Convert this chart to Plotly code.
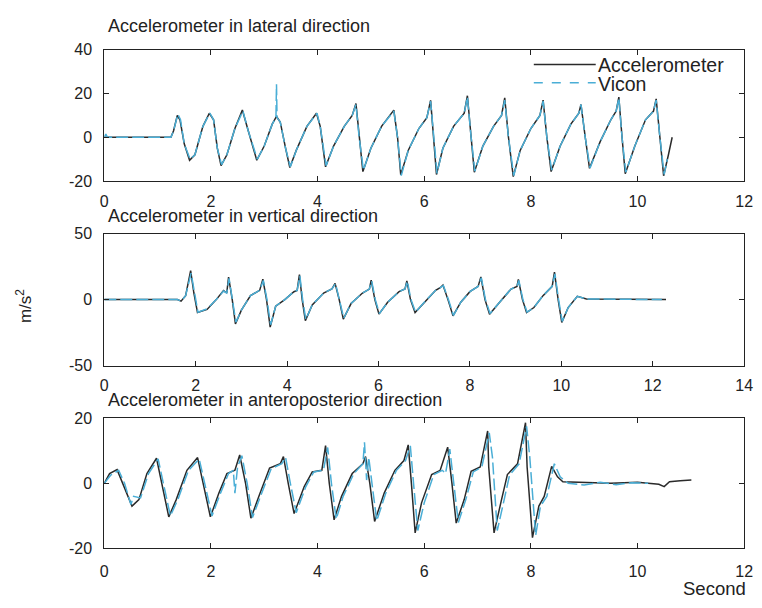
import plotly.graph_objects as go

# ---------------- lateral direction ----------------
lat_acc_t = [0.00, 1.25, 1.30, 1.37, 1.42, 1.50, 1.60, 1.70, 1.85, 1.97, 2.05, 2.12, 2.19, 2.30,
             2.45, 2.59, 2.70, 2.86, 3.00, 3.15, 3.23, 3.30, 3.40, 3.48, 3.60, 3.80, 3.98, 4.05,
             4.15, 4.30, 4.50, 4.65, 4.72, 4.78, 4.85, 5.00, 5.20, 5.43, 5.50, 5.56, 5.70, 5.90,
             6.05, 6.12, 6.18, 6.23, 6.35, 6.55, 6.75, 6.81, 6.88, 6.94, 7.10, 7.30, 7.45, 7.51,
             7.58, 7.67, 7.80, 8.00, 8.17, 8.23, 8.30, 8.38, 8.55, 8.75, 8.90, 8.94, 9.02, 9.10,
             9.30, 9.50, 9.60, 9.65, 9.71, 9.77, 9.95, 10.15, 10.30, 10.35, 10.42, 10.49, 10.58, 10.65]
lat_acc_v = [0, 0, 3, 10, 8, -3, -10.5, -8, 5, 11, 8, -5, -13, -8,
             4, 12.5, 3, -10.5, -4, 6, 9.5, 7, -5, -13.8, -6, 5, 11, 5,
             -13.5, -4, 5, 10, 15.4, 0, -15.7, -5, 5, 12.4, 0, -17.2, -6, 4,
             9, 16.9, 0, -17, -5, 5, 11, 19, 0, -16, -4, 5, 10, 18,
             0, -18, -6, 4, 10, 17, 0, -15.7, -4, 6, 11, 15, 0, -14.2,
             -2, 8, 12, 18.4, 0, -16.7, -4, 8, 12, 17.6, 0, -17.6, -8, 0]

lat_vic_t = [0.00, 0.03, 0.06, 1.25, 1.30, 1.38, 1.43, 1.50, 1.61, 1.70, 1.85, 1.98, 2.05, 2.12,
             2.20, 2.30, 2.45, 2.60, 2.70, 2.87, 3.00, 3.15, 3.22, 3.23, 3.24, 3.30, 3.40, 3.49,
             3.60, 3.80, 3.99, 4.05, 4.16, 4.30, 4.50, 4.65, 4.72, 4.78, 4.86, 5.00, 5.20, 5.43,
             5.50, 5.57, 5.70, 5.90, 6.05, 6.12, 6.18, 6.24, 6.35, 6.55, 6.75, 6.81, 6.88, 6.95,
             7.10, 7.30, 7.45, 7.51, 7.58, 7.68, 7.80, 8.00, 8.17, 8.23, 8.30, 8.39, 8.55, 8.75,
             8.90, 8.94, 9.02, 9.11, 9.30, 9.50, 9.60, 9.65, 9.71, 9.78, 9.95, 10.15, 10.30, 10.35,
             10.42, 10.50, 10.56]
lat_vic_v = [0, 1.5, 0, 0, 3, 10.5, 8, -3, -10, -8, 5, 11, 8, -5,
             -12.5, -8, 4, 12, 3, -10, -4, 6, 9, 24.3, 9, 7, -5, -13.5,
             -6, 5, 11, 5, -13, -4, 5, 10, 15, 0, -15, -5, 5, 12,
             0, -17.5, -6, 4, 9, 16.5, 0, -16.5, -5, 5, 11, 18.5, 0, -15.5,
             -4, 5, 10, 17, 0, -17.5, -6, 4, 10, 16.5, 0, -15, -4, 6,
             11, 15, 0, -14, -2, 8, 12, 18, 0, -16, -4, 8, 12, 17,
             0, -17, -10]

# ---------------- vertical direction ----------------
ver_acc_t = [0.00, 1.60, 1.68, 1.78, 1.89, 1.96, 2.04, 2.25, 2.45, 2.61, 2.68, 2.72, 2.80, 2.87,
             3.00, 3.20, 3.40, 3.47, 3.55, 3.63, 3.75, 3.95, 4.15, 4.22, 4.27, 4.33, 4.40, 4.55,
             4.80, 4.98, 5.05, 5.14, 5.23, 5.40, 5.65, 5.80, 5.84, 5.92, 6.01, 6.20, 6.45, 6.58,
             6.62, 6.70, 6.80, 7.00, 7.25, 7.35, 7.41, 7.52, 7.63, 7.80, 8.00, 8.18, 8.24, 8.33,
             8.43, 8.65, 8.90, 9.03, 9.06, 9.15, 9.24, 9.40, 9.60, 9.80, 9.85, 9.93, 10.01, 10.15,
             10.35, 10.55, 12.29]
ver_acc_v = [0, 0, -1.2, 3, 22, 5, -9.8, -7.4, 0, 6.8, 5, 17, 0, -18.4,
             -8, 3, 7, 15.4, 0, -20.8, -5, 0, 6, 7, 19, 0, -15.9, -4,
             5, 8, 12.3, 0, -14.7, -3, 5, 8, 14.7, 0, -11, -2, 6, 8,
             14.2, 0, -9.8, -2, 7, 9, 11, 0, -12.3, -2, 6, 10, 17.2, 0,
             -11, -2, 8, 10, 15.2, 0, -9.8, -6, 3, 10, 20.8, 0, -17.2, -6,
             2.5, 0.5, 0]

ver_vic_t = [0.00, 1.60, 1.68, 1.78, 1.90, 1.97, 2.05, 2.25, 2.45, 2.61, 2.68, 2.73, 2.81, 2.88,
             3.00, 3.20, 3.40, 3.48, 3.56, 3.64, 3.75, 3.95, 4.15, 4.22, 4.28, 4.34, 4.41, 4.55,
             4.80, 4.98, 5.06, 5.15, 5.24, 5.40, 5.65, 5.80, 5.85, 5.93, 6.02, 6.20, 6.45, 6.58,
             6.63, 6.71, 6.81, 7.00, 7.25, 7.35, 7.42, 7.53, 7.64, 7.80, 8.00, 8.18, 8.25, 8.34,
             8.44, 8.65, 8.90, 9.03, 9.07, 9.16, 9.25, 9.40, 9.60, 9.80, 9.86, 9.94, 10.02, 10.15,
             10.35, 10.55, 12.20]
ver_vic_v = [0, 0, -1, 3, 20, 5, -9.5, -7, 0, 6.5, 5, 16, 0, -17,
             -8, 3, 7, 14.5, 0, -19, -5, 0, 6, 7, 18, 0, -15, -4,
             5, 8, 12, 0, -14, -3, 5, 8, 14, 0, -10.5, -2, 6, 8,
             14, 0, -9.5, -2, 7, 9, 10.5, 0, -12, -2, 6, 10, 16.5, 0,
             -10.5, -2, 8, 10, 14.5, 0, -9.5, -6, 3, 10, 19.5, 0, -16.5, -6,
             2.5, 0.5, 0]

# ---------------- anteroposterior direction ----------------
ap_acc_t = [0.00, 0.10, 0.24, 0.35, 0.52, 0.65, 0.80, 0.98, 1.08, 1.21, 1.35, 1.55, 1.75, 1.85,
            1.99, 2.15, 2.30, 2.45, 2.54, 2.65, 2.75, 2.90, 3.10, 3.30, 3.36, 3.45, 3.56, 3.75,
            3.90, 4.08, 4.15, 4.22, 4.31, 4.45, 4.65, 4.85, 4.90, 4.98, 5.07, 5.25, 5.45, 5.62,
            5.70, 5.76, 5.83, 5.95, 6.14, 6.30, 6.44, 6.52, 6.60, 6.75, 6.88, 7.05, 7.19, 7.21,
            7.31, 7.45, 7.56, 7.75, 7.90, 7.93, 8.03, 8.15, 8.25, 8.39, 8.50, 8.60, 9.50, 10.00,
            10.40, 10.50, 10.60, 10.80, 11.01]
ap_acc_v = [0, 3, 4.2, 0, -7, -5, 3, 7.7, 0, -10.3, -5, 4, 7.9, 0,
            -10.3, -3, 3, 4, 8.7, 0, -10.7, -4, 4.7, 6, 8.2, 0, -9.3, -1,
            3.5, 4, 11.6, 0, -11.2, -4, 3, 6, 8.2, 0, -11.7, -3, 4, 7,
            11.8, 0, -15.2, -6, 2.7, 4, 11.1, 0, -12.2, -5, 3.7, 5, 16.1, 5,
            -15.2, -5, 2.7, 6, 18.6, 5, -16.7, -7, -4, 5.2, 2, 0.5, 0, 0.3,
            -0.3, -1, 0.5, 0.8, 1]

ap_vic_t = [0.00, 0.12, 0.27, 0.38, 0.50, 0.55, 0.68, 0.83, 1.01, 1.11, 1.24, 1.38, 1.58, 1.78,
            1.88, 2.02, 2.18, 2.33, 2.42, 2.45, 2.50, 2.58, 2.68, 2.78, 2.93, 3.13, 3.33, 3.40,
            3.49, 3.60, 3.78, 3.93, 4.11, 4.19, 4.26, 4.35, 4.48, 4.68, 4.85, 4.88, 4.92, 4.96,
            5.02, 5.11, 5.28, 5.48, 5.65, 5.74, 5.80, 5.88, 6.00, 6.18, 6.34, 6.40, 6.48, 6.56,
            6.64, 6.78, 6.92, 7.08, 7.22, 7.28, 7.37, 7.50, 7.60, 7.78, 7.92, 7.98, 8.09, 8.18,
            8.30, 8.44, 8.55, 8.70, 9.00, 9.30, 9.60, 9.90, 10.20]
ap_vic_v = [0, 2.5, 4, 0, -6.5, -4, -4.5, 3, 7.5, 0, -10, -5, 4, 7.5,
            0, -10, -3, 3, 4, -3, 5, 8.5, 0, -10.5, -4, 4.5, 6, 8,
            0, -9, -1, 3.5, 4, 11, 0, -11, -4, 3, 6, 12.6, 1, 8,
            0, -11.5, -3, 4, 7, 11.5, 0, -14.5, -6, 2.7, 4, 3, 10.5, 0,
            -12, -5, 3.5, 5, 15.5, 8, -14.5, -5, 2.5, 6, 17.5, 8, -16, -7,
            -4, 6, 2, 0, -0.5, 0.3, -0.4, 0.2, 0]

# tick positions and labels
x_ticks_12 = [0, 2, 4, 6, 8, 10, 12]
x_ticks_14 = [0, 2, 4, 6, 8, 10, 12, 14]
lat_y_ticks = [-20, 0, 20, 40]
ver_y_ticks = [-50, 0, 50]
ap_y_ticks = [-20, 0, 20]

W, H = 762, 608
ACC_COLOR = "#2a2a2a"
VIC_COLOR = "#4aaed6"
FONT = "Liberation Sans, Arial, sans-serif"


def px(x):
    return x / W


def py(y):
    return 1 - y / H


fig = go.Figure()

panels = [
    ("x", "y", lat_acc_t, lat_acc_v, lat_vic_t, lat_vic_v),
    ("x2", "y2", ver_acc_t, ver_acc_v, ver_vic_t, ver_vic_v),
    ("x3", "y3", ap_acc_t, ap_acc_v, ap_vic_t, ap_vic_v),
]
for xa, ya, at, av, vt, vv in panels:
    fig.add_trace(go.Scatter(x=at, y=av, mode="lines", xaxis=xa, yaxis=ya,
                             line=dict(color=ACC_COLOR, width=1.5),
                             name="Accelerometer", showlegend=False))
    fig.add_trace(go.Scatter(x=vt, y=vv, mode="lines", xaxis=xa, yaxis=ya,
                             line=dict(color=VIC_COLOR, width=1.5, dash="12px,4px"),
                             name="Vicon", showlegend=False))


def axis_style(rng, ticks, labels, domain, anchor, standoff):
    return dict(range=rng, domain=domain, anchor=anchor,
                tickmode="array", tickvals=ticks, ticktext=labels,
                ticks="inside", ticklen=5, tickwidth=1, tickcolor="#222",
                showline=True, linecolor="#222", linewidth=1, mirror="allticks",
                showgrid=False, zeroline=False,
                tickfont=dict(family=FONT, size=16, color="#222"),
                ticklabelstandoff=standoff)


xdom = [px(102), px(753)]
fig.update_layout(
    width=W, height=H,
    margin=dict(l=0, r=0, t=0, b=0),
    paper_bgcolor="white", plot_bgcolor="white",
    xaxis=axis_style([0, 12], x_ticks_12, [str(v) for v in x_ticks_12], xdom, "y", 6),
    yaxis=axis_style([-20, 40], lat_y_ticks, [str(v) for v in lat_y_ticks],
                     [py(178), py(43)], "x", 8),
    xaxis2=axis_style([0, 14], x_ticks_14, [str(v) for v in x_ticks_14], xdom, "y2", 5),
    yaxis2=axis_style([-50, 50], ver_y_ticks, [str(v) for v in ver_y_ticks],
                      [py(368), py(232)], "x2", 8),
    xaxis3=axis_style([0, 12], x_ticks_12, [str(v) for v in x_ticks_12], xdom, "y3", 8),
    yaxis3=axis_style([-20, 20], ap_y_ticks, [str(v) for v in ap_y_ticks],
                      [py(556), py(422)], "x3", 8),
    showlegend=False,
)

titles = [
    ("Accelerometer in lateral direction", 19),
    ("Accelerometer in vertical direction", 214),
    ("Accelerometer in anteroposterior direction", 403),
]
for text, yc in titles:
    fig.add_annotation(text=text, xref="paper", yref="paper", x=px(104), y=py(yc),
                       xanchor="left", yanchor="middle", showarrow=False,
                       font=dict(family=FONT, size=18, color="#222"))

fig.add_annotation(text="m/s<sup>2</sup>", xref="paper", yref="paper", x=px(21), y=py(307),
                   xanchor="center", yanchor="middle", showarrow=False, textangle=-90,
                   font=dict(family=FONT, size=17, color="#222"))
fig.add_annotation(text="Second", xref="paper", yref="paper", x=px(689), y=py(597),
                   xanchor="left", yanchor="middle", showarrow=False,
                   font=dict(family=FONT, size=18.5, color="#222"))

# legend drawn inside the top panel
legend_items = [("Accelerometer", ACC_COLOR, "solid", 58), ("Vicon", VIC_COLOR, "dash", 77)]
for name, color, dash, yc in legend_items:
    fig.add_shape(type="line", xref="paper", yref="paper",
                  x0=px(539), x1=px(602), y0=py(yc), y1=py(yc),
                  line=dict(color=color, width=1.5, dash=dash))
    fig.add_annotation(text=name, xref="paper", yref="paper", x=px(602), y=py(yc + 1),
                       xanchor="left", yanchor="middle", showarrow=False,
                       font=dict(family=FONT, size=19.5, color="#222"))

fig.write_html("out.html")
